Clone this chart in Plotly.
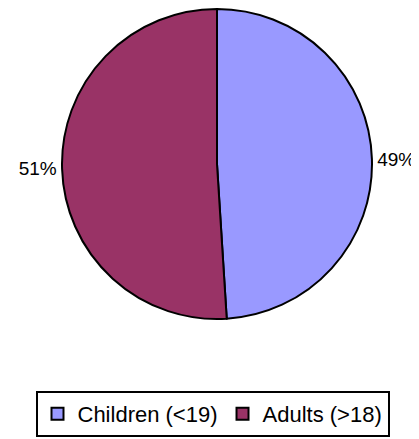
import plotly.graph_objects as go

labels = ["Children (<19)", "Adults (>18)"]
values = [49, 51]
colors = ["#9999FF", "#993366"]

# page offset of the figure (browser body margin)
OFF = 8
W, H = 419 - OFF, 439 - OFF
cx, cy, r = 217 - OFF, 164 - OFF, 155

fig = go.Figure(go.Pie(
    labels=labels,
    values=values,
    sort=False,
    direction="clockwise",
    rotation=0,
    marker=dict(colors=colors, line=dict(color="black", width=2)),
    textinfo="percent",
    texttemplate="%{percent:.0%}",
    textposition="outside",
    textfont=dict(family="Liberation Sans, Arial, sans-serif", size=19, color="black"),
    showlegend=True,
    domain=dict(x=[(cx - r) / W, (cx + r) / W], y=[1 - (cy + r) / H, 1 - (cy - r) / H]),
    automargin=False,
))

fig.update_layout(
    width=W, height=H,
    margin=dict(l=0, r=0, t=0, b=0),
    paper_bgcolor="white",
    plot_bgcolor="white",
    font=dict(family="Liberation Sans, Arial, sans-serif", size=19, color="black"),
    legend=dict(
        orientation="h",
        x=(212.5 - OFF) / W, xanchor="center",
        y=2 / H, yanchor="bottom",
        bordercolor="black", borderwidth=2,
        font=dict(size=22),
        itemwidth=30,
        tracegroupgap=0,
    ),
)

fig.write_html("out.html")
